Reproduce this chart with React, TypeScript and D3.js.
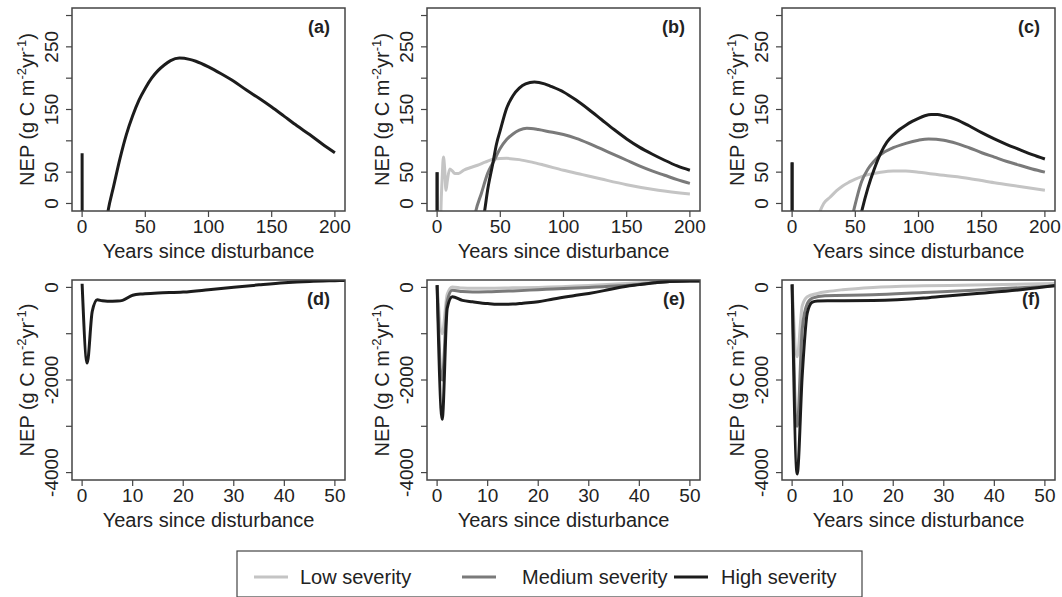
import React from 'react';
import * as d3 from 'd3';

type Pt = [number, number];

// Long-term NEP (top row), years 0-200
const highA: Pt[] = [[0, 80], [1, -1635], [5, -300], [10, -170], [15, -100], [20, -18], [25, 28], [30, 72], [35, 110], [40, 140], [45, 165], [50, 184], [55, 200], [60, 212], [65, 221], [70, 228], [77, 232], [85, 230], [90, 227], [100, 218], [110, 207], [120, 195], [130, 181], [140, 168], [150, 154], [160, 139], [170, 124], [180, 110], [190, 95], [200, 81]];

const lowB: Pt[] = [[0, 50], [1, -1000], [2, -150], [3, -13], [4, 40], [5, 74], [6, 55], [7, 21], [8, 35], [10, 55], [12, 52], [14, 48], [17, 48], [21, 53], [26, 57], [32, 61], [38, 66], [45, 71], [55, 72], [65, 70], [75, 66], [85, 61], [100, 53], [115, 46], [130, 39], [150, 30], [175, 21], [200, 15]];
const midB: Pt[] = [[0, 50], [1, -2000], [2, -300], [3, -60], [10, -95], [20, -50], [28, -40], [30.5, -13], [35, 16], [40, 48], [45, 68], [50, 88], [55, 102], [60, 111], [65, 117], [71, 120], [80, 118], [90, 114], [100, 110], [110, 104], [120, 96], [130, 87], [140, 78], [150, 69], [160, 60], [170, 52], [180, 45], [190, 38], [200, 32]];
const highB: Pt[] = [[0, 50], [1, -2850], [2, -450], [3, -200], [10, -350], [20, -310], [30, -130], [35, -40], [37.5, -13], [40, 22], [44, 63], [47, 95], [50, 117], [55, 152], [60, 172], [65, 184], [70, 191], [77, 194], [85, 191], [90, 187], [100, 178], [110, 165], [120, 150], [130, 134], [140, 118], [150, 103], [160, 90], [170, 79], [180, 69], [190, 60], [200, 53]];

const lowC: Pt[] = [[0, 65], [1, -1500], [3, -200], [10, -80], [15, -55], [20, -25], [22, -13], [25, 0], [30, 10], [35, 20], [40, 28], [45, 34], [50, 39], [60, 46], [70, 50], [80, 52], [90, 52], [100, 50], [120, 45], [140, 40], [160, 33], [180, 27], [200, 21]];
const midC: Pt[] = [[0, 65], [1, -3000], [4, -260], [10, -220], [20, -170], [30, -140], [40, -90], [45, -40], [48.5, -13], [52, 15], [55, 35], [60, 55], [65, 68], [70, 78], [80, 89], [90, 96], [100, 101], [108, 103], [120, 101], [130, 96], [140, 89], [150, 81], [160, 74], [170, 67], [180, 61], [190, 55], [200, 50]];
const highC: Pt[] = [[0, 66], [1, -4030], [4, -290], [10, -290], [20, -260], [30, -200], [40, -150], [50, -60], [55, -13], [60, 25], [65, 55], [70, 80], [75, 98], [80, 109], [85, 118], [90, 125], [95, 131], [100, 136], [105, 140], [110, 142], [115, 142], [120, 140], [130, 134], [140, 124], [150, 113], [160, 103], [170, 94], [180, 86], [190, 78], [200, 71]];

// Short-term NEP (bottom row), years 0-52
const highD: Pt[] = [[0, 80], [1, -1635], [2, -520], [3, -266], [4, -290], [5, -300], [7, -295], [8, -280], [10, -170], [12, -140], [15, -120], [20, -100], [25, -50], [30, 5], [35, 55], [40, 100], [45, 130], [50, 145], [52, 150]];

const lowE: Pt[] = [[0, 50], [1, -1000], [2, -150], [3, 10], [5, -15], [7, -20], [10, -20], [15, -10], [20, 0], [30, 40], [40, 100], [46, 130], [50, 140], [52, 140]];
const midE: Pt[] = [[0, 50], [1, -2000], [2, -300], [3, -60], [5, -90], [7, -100], [10, -95], [15, -75], [20, -50], [23, -35], [30, 0], [36, 35], [40, 70], [46, 125], [50, 140], [52, 140]];
const highE: Pt[] = [[0, 50], [1, -2850], [2, -450], [3, -200], [5, -280], [7, -310], [10, -350], [12, -365], [15, -360], [17, -340], [20, -310], [23, -250], [27, -180], [30, -130], [33, -70], [36, 0], [40, 60], [43, 100], [46, 130], [50, 140], [52, 140]];

const lowF: Pt[] = [[0, 66], [1, -1500], [2, -400], [3, -200], [5, -130], [7, -90], [10, -50], [16, 0], [26, 35], [36, 50], [52, 85]];
const midF: Pt[] = [[0, 66], [1, -3000], [2, -900], [3, -350], [4, -230], [6.5, -180], [16, -160], [26, -110], [36, -60], [46, 0], [52, 30]];
const highF: Pt[] = [[0, 66], [1, -4030], [2, -1900], [3, -550], [4, -320], [5, -295], [7, -290], [10, -290], [16, -285], [26, -230], [30, -190], [36, -135], [46, -40], [52, 40]];

// ticks
const topXTicks = [0, 50, 100, 150, 200];
const botXTicks = [0, 10, 20, 30, 40, 50];
const topYTicks = [0, 50, 100, 150, 200, 250, 300];
const topYLabels = [0, 50, 150, 250];
const botYTicks = [0, -1000, -2000, -3000, -4000];
const botYLabels = [0, -2000, -4000];

const severities = ['Low severity', 'Medium severity', 'High severity'];
const colors = ['#c4c4c4', '#7a7a7a', '#1c1c1c'];

const FONT = '"Liberation Sans", Arial, sans-serif';

const panels = [
  { label: '(a)', row: 0, col: 0, series: [highA], sev: [2] },
  { label: '(b)', row: 0, col: 1, series: [lowB, midB, highB], sev: [0, 1, 2] },
  { label: '(c)', row: 0, col: 2, series: [lowC, midC, highC], sev: [0, 1, 2] },
  { label: '(d)', row: 1, col: 0, series: [highD], sev: [2] },
  { label: '(e)', row: 1, col: 1, series: [lowE, midE, highE], sev: [0, 1, 2] },
  { label: '(f)', row: 1, col: 2, series: [lowF, midF, highF], sev: [0, 1, 2] },
];

const colLeft = [72, 427, 782];
const boxW = 273;
const rowTop = [8, 280];
const rowH = [203, 200];

const Panel = ({ p }: { p: typeof panels[number] }) => {
  const left = colLeft[p.col];
  const top = rowTop[p.row];
  const h = rowH[p.row];
  const bottom = top + h;
  const isTop = p.row === 0;

  const x = d3.scaleLinear().domain(isTop ? [-8, 208] : [-2, 52]).range([left, left + boxW]);
  const y = d3.scaleLinear().domain(isTop ? [-12, 312] : [-4160, 160]).range([bottom, top]);

  const line = d3
    .line<Pt>()
    .x((d) => x(d[0]))
    .y((d) => y(d[1]))
    .curve(d3.curveMonotoneX);

  const xTicks = isTop ? topXTicks : botXTicks;
  const yTicks = isTop ? topYTicks : botYTicks;
  const yLabels = isTop ? topYLabels : botYLabels;
  const clipId = `clip-${p.label.replace(/[()]/g, '')}`;
  const cy = (top + bottom) / 2;

  return (
    <g>
      <defs>
        <clipPath id={clipId}>
          <rect x={left} y={top} width={boxW} height={h} />
        </clipPath>
      </defs>
      <g clipPath={`url(#${clipId})`}>
        {p.series.map((s, i) => (
          <path
            key={i}
            d={line(s) || ''}
            fill="none"
            stroke={colors[p.sev[i]]}
            strokeWidth={3}
            strokeLinejoin="round"
          />
        ))}
      </g>
      <rect x={left} y={top} width={boxW} height={h} fill="none" stroke="#444" strokeWidth={1.5} />

      {/* x axis */}
      {xTicks.map((t) => (
        <g key={`x${t}`}>
          <line x1={x(t)} x2={x(t)} y1={bottom} y2={bottom + 6} stroke="#444" strokeWidth={1.2} />
          <text x={x(t)} y={bottom + 22} textAnchor="middle" fontSize={19} fill="#222">
            {t}
          </text>
        </g>
      ))}
      <text x={left + boxW / 2} y={bottom + 47} textAnchor="middle" fontSize={20} fill="#222">
        Years since disturbance
      </text>

      {/* y axis */}
      {yTicks.map((t) => (
        <line key={`y${t}`} x1={left - 6} x2={left} y1={y(t)} y2={y(t)} stroke="#444" strokeWidth={1.2} />
      ))}
      {yLabels.map((t) => (
        <text
          key={`yl${t}`}
          transform={`translate(${left - 14},${y(t)}) rotate(-90)`}
          textAnchor="middle"
          fontSize={19}
          fill="#222"
        >
          {t}
        </text>
      ))}
      <text transform={`translate(${left - 38},${cy}) rotate(-90)`} textAnchor="middle" fontSize={20} fill="#222">
        NEP (g C m
        <tspan dy={-8} fontSize={13}>-2</tspan>
        <tspan dy={8}>yr</tspan>
        <tspan dy={-8} fontSize={13}>-1</tspan>
        <tspan dy={8}>)</tspan>
      </text>

      <text x={left + boxW - 15} y={top + 25} textAnchor="end" fontSize={18} fontWeight="bold" fill="#222">
        {p.label}
      </text>
    </g>
  );
};

const legendItems = [
  { lx: 254, tx: 300 },
  { lx: 462, tx: 522 },
  { lx: 674, tx: 721 },
];

const App = () => {
  return (
    <svg
      width={1062}
      height={597}
      style={{ position: 'absolute', left: 0, top: 0, background: 'white', fontFamily: FONT }}
    >
      {panels.map((p) => (
        <Panel key={p.label} p={p} />
      ))}
      <rect x={237} y={551} width={625} height={46} fill="none" stroke="#444" strokeWidth={1.2} />
      {severities.map((s, i) => (
        <g key={s}>
          <line
            x1={legendItems[i].lx}
            x2={legendItems[i].lx + 34}
            y1={577}
            y2={577}
            stroke={colors[i]}
            strokeWidth={3}
          />
          <text x={legendItems[i].tx} y={584} fontSize={20} fill="#222">
            {s}
          </text>
        </g>
      ))}
    </svg>
  );
};

export default App;
